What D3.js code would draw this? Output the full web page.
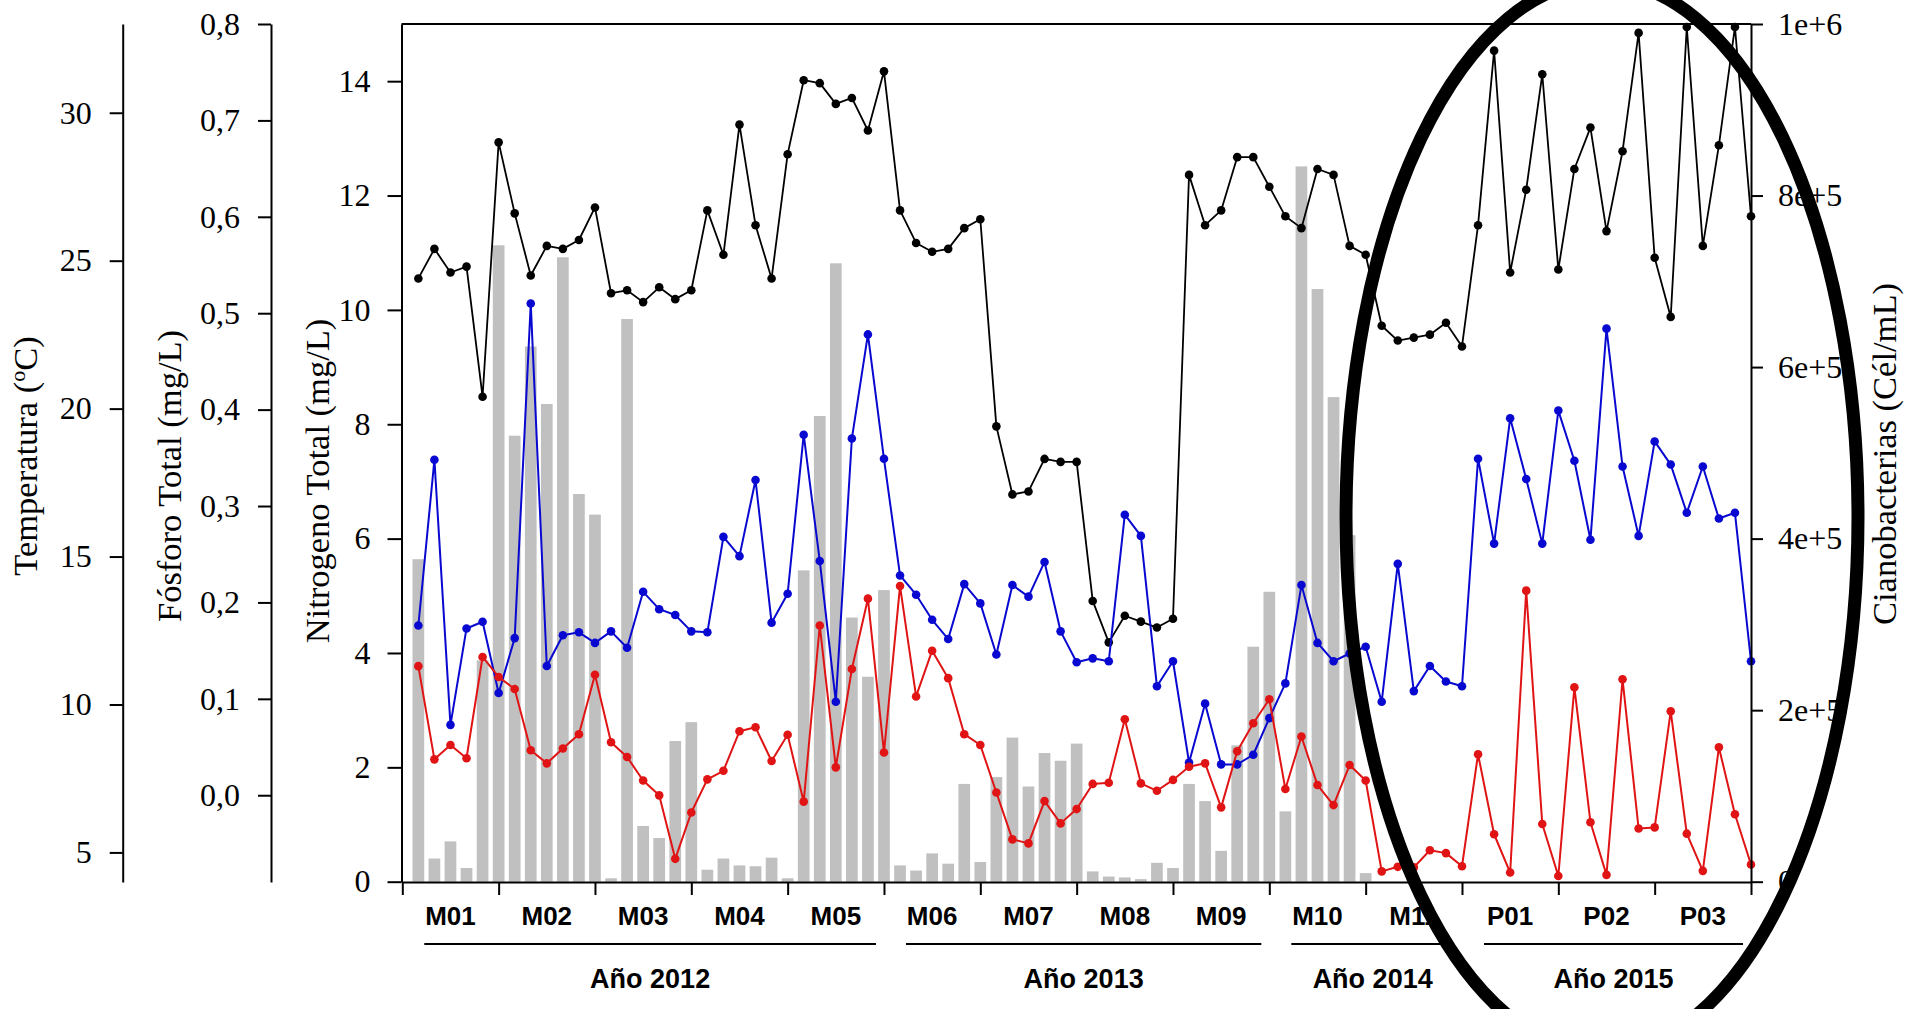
<!DOCTYPE html>
<html>
<head>
<meta charset="utf-8">
<script src="https://cdn.jsdelivr.net/npm/d3@7"></script>
<style>
body{margin:0;background:#fff}
</style>
</head>
<body>
<div id="root"></div>
<script>
// series, one value per sampling (84 samplings)
var temperatura=[24.4,25.4,24.6,24.8,20.4,29.0,26.6,24.5,25.5,25.4,
 25.7,26.8,23.9,24.0,23.6,24.1,23.7,24.0,26.7,25.2,
 29.6,26.2,24.4,28.6,31.1,31.0,30.3,30.5,29.4,31.4,
 26.7,25.6,25.3,25.4,26.1,26.4,19.4,17.1,17.2,18.3,
 18.2,18.2,13.5,12.1,13.0,12.8,12.6,12.9,27.9,26.2,
 26.7,28.5,28.5,27.5,26.5,26.1,28.1,27.9,25.5,25.2,
 22.8,22.3,22.4,22.5,22.9,22.1,26.2,32.1,24.6,27.4,
 31.3,24.7,28.1,29.5,26.0,28.7,32.7,25.1,23.1,32.9,
 25.5,28.9,32.9,26.5];

var fosforo=[0.176,0.348,0.073,0.173,0.180,0.106,0.163,0.510,0.134,0.166,
 0.169,0.158,0.170,0.153,0.211,0.193,0.187,0.170,0.169,0.268,
 0.248,0.327,0.179,0.209,0.374,0.243,0.097,0.370,0.478,0.349,
 0.228,0.208,0.182,0.162,0.219,0.199,0.146,0.218,0.206,0.242,
 0.170,0.138,0.142,0.139,0.291,0.269,0.113,0.139,0.034,0.095,
 0.032,0.032,0.042,0.080,0.116,0.218,0.158,0.139,0.147,0.154,
 0.097,0.240,0.108,0.134,0.118,0.113,0.349,0.261,0.391,0.328,
 0.261,0.399,0.347,0.265,0.484,0.341,0.269,0.367,0.343,0.293,
 0.341,0.287,0.293,0.139];

var nitrogeno=[3.77,2.14,2.39,2.16,3.93,3.58,3.37,2.30,2.07,2.33,
 2.58,3.62,2.44,2.18,1.77,1.51,0.40,1.21,1.79,1.94,
 2.63,2.70,2.11,2.57,1.40,4.48,2.00,3.72,4.95,2.26,
 5.17,3.24,4.04,3.56,2.58,2.39,1.56,0.74,0.67,1.41,
 1.02,1.27,1.71,1.73,2.84,1.72,1.59,1.78,2.01,2.07,
 1.30,2.28,2.77,3.19,1.62,2.54,1.69,1.34,2.04,1.77,
 0.18,0.26,0.25,0.55,0.50,0.27,2.23,0.83,0.16,5.09,
 1.01,0.10,3.40,1.04,0.12,3.54,0.93,0.95,2.98,0.84,
 0.19,2.35,1.18,0.30];

var ciano=[376000,27000,47000,16000,258000,742000,520000,624000,557000,728000,
 452000,428000,4000,656000,65000,51000,164000,186000,14000,27000,
 19000,18000,28000,4000,363000,543000,721000,308000,239000,340000,
 19000,13000,33000,21000,114000,23000,122000,168000,111000,150000,
 141000,161000,12000,6000,5000,3000,22000,16000,114000,94000,
 36000,159000,274000,338000,82000,834000,691000,565000,404000,10000,
 0,0,0,0,0,0,0,0,0,0,
 0,0,0,0,0,0,0,0,0,0,
 0,0,0,0];

var periodos=['M01','M02','M03','M04','M05','M06','M07','M08','M09','M10','M11','P01','P02','P03'];
var anios=['Año 2012','Año 2013','Año 2014','Año 2015'];
var aniosDesde=[0,5,9,11];   // first periodo of each year
var aniosHasta=[5,9,11,14];  // periodo after the last one

var ticksTemp=[5,10,15,20,25,30];
var ticksP=[0,0.1,0.2,0.3,0.4,0.5,0.6,0.7,0.8];
var ticksN=[0,2,4,6,8,10,12,14];
var ticksC=[0,200000,400000,600000,800000,1000000];
var ticksCLab=['0','2e+5','4e+5','6e+5','8e+5','1e+6'];

var W=1911,H=1009;
var yTop=24,yBot=882;
var xL=402.3,xR=1751;
var n=temperatura.length;
var porPeriodo=6;

var svg=d3.select('#root').append('svg')
	.attr('width',W).attr('height',H)
	.style('display','block').style('background','#fff');

var x=d3.scaleLinear().domain([0,n]).range([xL,xR]);
var yN=d3.scaleLinear().domain([0,15]).range([881.7,yTop]);
var yP=d3.scaleLinear().domain([-0.09,0.8]).range([yBot,yTop]);
var yT=d3.scaleLinear().domain([4,33]).range([yBot,yTop]);
var yC=d3.scaleLinear().domain([0,1e6]).range([881.7,yTop]);

var serif='"Liberation Serif","Times New Roman",serif';
var sans='"Liberation Sans",Arial,sans-serif';

// bars
var bw=11.7;
svg.append('g').selectAll('rect').data(ciano).enter().append('rect')
	.attr('x',function(d,i){return x(i+1)-bw/2})
	.attr('y',function(d){return yC(d)})
	.attr('width',bw)
	.attr('height',function(d){return yC(0)-yC(d)})
	.attr('fill','#c0c0c0');

// lines + points
function serie(data,scale,color,sw){
	var line=d3.line().x(function(d,i){return x(i+1)}).y(function(d){return scale(d)});
	svg.append('path').datum(data).attr('d',line)
		.attr('fill','none').attr('stroke',color).attr('stroke-width',sw).attr('stroke-linejoin','round');
	svg.append('g').selectAll('circle').data(data).enter().append('circle')
		.attr('cx',function(d,i){return x(i+1)})
		.attr('cy',function(d){return scale(d)})
		.attr('r',4.3).attr('fill',color);
}
serie(temperatura,yT,'#000',1.8);
serie(fosforo,yP,'#0808d0',2);
serie(nitrogeno,yN,'#e01414',2);

// axes
function estilo(g){
	g.attr('font-size',32).attr('font-family',serif);
	g.selectAll('path,line').attr('stroke','#000').attr('stroke-width',2);
	g.selectAll('text').attr('fill','#000');
}
var coma=function(d){return d3.format('.1f')(d).replace('.',',')};

svg.append('g').attr('transform','translate(122.7,0)')
	.call(d3.axisLeft(yT).tickValues(ticksTemp).tickSize(13).tickSizeOuter(0).tickPadding(18)).call(estilo);
svg.append('g').attr('transform','translate(271,0)')
	.call(d3.axisLeft(yP).tickValues(ticksP).tickFormat(coma).tickSize(13).tickSizeOuter(0).tickPadding(18)).call(estilo);
svg.append('g').attr('transform','translate(401.5,0)')
	.call(d3.axisLeft(yN).tickValues(ticksN).tickSize(14).tickSizeOuter(0).tickPadding(17)).call(estilo);
svg.append('g').attr('transform','translate('+xR+',0)')
	.call(d3.axisRight(yC).tickValues(ticksC).tickFormat(function(d,i){return ticksCLab[i]}).tickSize(12).tickSizeOuter(0).tickPadding(15)).call(estilo);

var xTicks=d3.range(0,n+1,porPeriodo);
svg.append('g').attr('transform','translate(0,'+yBot+')')
	.call(d3.axisBottom(x).tickValues(xTicks).tickFormat('').tickSize(13).tickSizeOuter(0)).call(estilo);

// top border
svg.append('line').attr('x1',401.5).attr('x2',xR).attr('y1',yTop).attr('y2',yTop)
	.attr('stroke','#000').attr('stroke-width',2);

// periodo labels
svg.append('g').selectAll('text').data(periodos).enter().append('text')
	.attr('x',function(d,i){return (x(i*porPeriodo)+x((i+1)*porPeriodo))/2})
	.attr('y',925)
	.attr('text-anchor','middle')
	.attr('font-family',sans).attr('font-weight','bold').attr('font-size',26)
	.text(function(d){return d});

// year groups
var yg=svg.append('g').selectAll('g').data(anios).enter().append('g');
yg.append('line')
	.attr('x1',function(d,i){return x(aniosDesde[i]*porPeriodo)+22})
	.attr('x2',function(d,i){return x(aniosHasta[i]*porPeriodo)-8})
	.attr('y1',944).attr('y2',944)
	.attr('stroke','#000').attr('stroke-width',2);
yg.append('text')
	.attr('x',function(d,i){return (x(aniosDesde[i]*porPeriodo)+22+x(aniosHasta[i]*porPeriodo)-8)/2})
	.attr('y',988)
	.attr('text-anchor','middle')
	.attr('font-family',sans).attr('font-weight','bold').attr('font-size',27)
	.text(function(d){return d});

// axis titles
function titulo(tx,ty){
	return svg.append('text').attr('transform','translate('+tx+','+ty+') rotate(-90)')
		.attr('text-anchor','middle').attr('font-family',serif).attr('font-size',34.5);
}
var tt=titulo(37,456);
tt.append('tspan').text('Temperatura (');
tt.append('tspan').attr('font-size',22).attr('dy',-12).text('o');
tt.append('tspan').attr('dy',12).text('C)');
titulo(181,476).text('Fósforo Total (mg/L)');
titulo(329,481).text('Nitrogeno Total (mg/L)');
titulo(1896,454).text('Cianobacterias (Cél/mL)');

// highlight ellipse
svg.append('ellipse')
	.attr('cx',1602).attr('cy',517).attr('rx',256).attr('ry',536)
	.attr('fill','none').attr('stroke','#000').attr('stroke-width',13);
</script>
</body>
</html>
